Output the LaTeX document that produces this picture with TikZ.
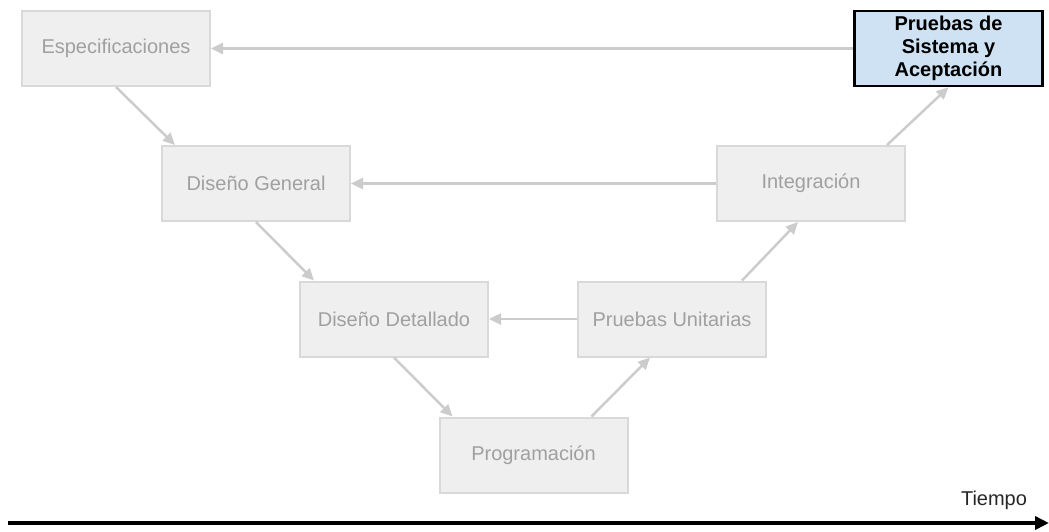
\documentclass[tikz,border=0pt]{standalone}
\usepackage{fontspec}
\setmainfont{Liberation Sans}
\usetikzlibrary{arrows.meta,calc}
\definecolor{boxfill}{HTML}{EFEFEF}
\definecolor{boxline}{HTML}{D9D9D9}
\definecolor{boxtext}{HTML}{A0A0A0}
\definecolor{linkgray}{HTML}{CCCCCC}
\definecolor{goalfill}{HTML}{CFE2F3}
\begin{document}
\begin{tikzpicture}[x=1pt,y=-1pt,
  phase/.style={fill=boxfill,draw=boxline,line width=2pt,text=boxtext,minimum width=188pt,minimum height=75pt,inner sep=0pt,font=\fontsize{20}{23}\selectfont},
  goal/.style={phase,fill=goalfill,draw=black,line width=2.5pt,text=black,align=center,font=\fontsize{20}{23}\selectfont\bfseries},
  link/.style={draw=linkgray,line width=2.5pt,-{Triangle[length=12pt,width=11pt]}}]
\useasboundingbox (0,0) rectangle (1049,531);
% fases
\node[phase] (espec) at (116,48.5) {Especificaciones};
\node[goal] (prusis) at (948.5,48.5) {Pruebas de\\Sistema y\\Aceptación};
\node[phase] (disgen) at (256,183.5) {Diseño General};
\node[phase] (integ) at (811,183.5) {Integración};
\node[phase] (disdet) at (394,319) {Diseño Detallado};
\node[phase] (pruni) at (672,319) {Pruebas Unitarias};
\node[phase] (prog) at (533.5,455) {Programación};
% bajada
\draw[link] (espec.south) -- ($(disgen.north west)+(14,0)$);
\draw[link] (disgen.south) -- ($(disdet.north west)+(15,0)$);
\draw[link] (disdet.south) -- ($(prog.north west)+(14,0)$);
% subida
\draw[link] ($(prog.north)+(58,0)$) -- ($(pruni.south)+(-22,0)$);
\draw[link] ($(pruni.north)+(70,0)$) -- ($(integ.south)+(-13,0)$);
\draw[link] ($(integ.north)+(76,0)$) -- (prusis.south);
% verificacion
\draw[link] (prusis.west) -- (espec.east);
\draw[link] (integ.west) -- (disgen.east);
\draw[link] (pruni.west) -- (disdet.east);
% tiempo
\node[anchor=base,text=black!85,font=\fontsize{20}{23}\selectfont] (tiempo) at (994,505) {Tiempo};
\coordinate (t0) at (8,523);
\coordinate (t1) at (1049,523);
\draw[line width=4pt,-{Triangle[length=14pt,width=13pt]}] (t0) -- (t1);
\end{tikzpicture}
\end{document}
